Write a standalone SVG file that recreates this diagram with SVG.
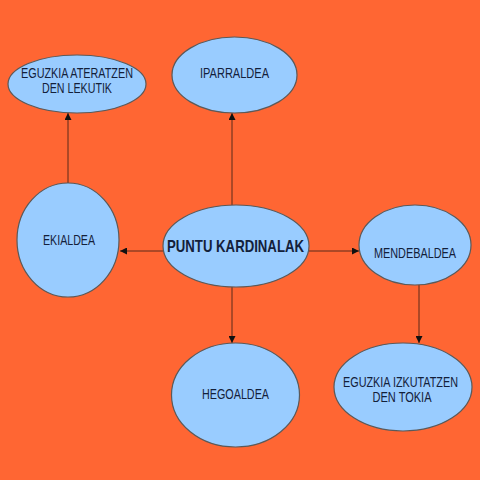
<svg xmlns="http://www.w3.org/2000/svg" width="480" height="480" viewBox="0 0 480 480">
<defs>
<style>
.n{fill:#99ccff;stroke:#5a5a5a;stroke-width:1.2}
.t{font-family:"Liberation Sans",Arial,sans-serif;font-size:14px;fill:#13203a;text-anchor:middle}
.b{font-weight:bold;font-size:17px}
.c{stroke:#5a2a1a;stroke-width:1;fill:none;marker-end:url(#ah)}
</style>
<marker id="ah" viewBox="0 0 10 10" refX="10" refY="5" markerWidth="7" markerHeight="7" orient="auto" markerUnits="userSpaceOnUse">
<path d="M0,0 L10,5 L0,10 z" fill="#111"/>
</marker>
</defs>
<rect width="480" height="480" fill="#ff6633"/>
<g id="connectors">
<line class="c" x1="68" y1="183" x2="68" y2="113"/>
<line class="c" x1="232" y1="205" x2="232" y2="113"/>
<line class="c" x1="163" y1="251" x2="120" y2="251"/>
<line class="c" x1="309" y1="251" x2="359" y2="251"/>
<line class="c" x1="232" y1="287" x2="232" y2="343"/>
<line class="c" x1="419" y1="285" x2="419" y2="343"/>
</g>
<g id="eguzkia-ateratzen">
<ellipse class="n" cx="77" cy="84" rx="69" ry="29"/>
<text class="t" x="77" y="78" textLength="112" lengthAdjust="spacingAndGlyphs">EGUZKIA ATERATZEN</text>
<text class="t" x="77" y="93" textLength="70" lengthAdjust="spacingAndGlyphs">DEN LEKUTIK</text>
</g>
<g id="iparraldea">
<ellipse class="n" cx="234.5" cy="75" rx="62.5" ry="38"/>
<text class="t" x="234.5" y="78" textLength="69" lengthAdjust="spacingAndGlyphs">IPARRALDEA</text>
</g>
<g id="ekialdea">
<ellipse class="n" cx="68" cy="240" rx="51" ry="57"/>
<text class="t" x="69" y="245" textLength="52" lengthAdjust="spacingAndGlyphs">EKIALDEA</text>
</g>
<g id="puntu-kardinalak">
<ellipse class="n" cx="236" cy="246" rx="73" ry="41"/>
<text class="t b" x="235.5" y="252" textLength="137" lengthAdjust="spacingAndGlyphs">PUNTU KARDINALAK</text>
</g>
<g id="mendebaldea">
<ellipse class="n" cx="415" cy="245" rx="56" ry="40"/>
<text class="t" x="415" y="258" textLength="82" lengthAdjust="spacingAndGlyphs">MENDEBALDEA</text>
</g>
<g id="hegoaldea">
<ellipse class="n" cx="235.5" cy="395" rx="64" ry="52"/>
<text class="t" x="235.5" y="399" textLength="67" lengthAdjust="spacingAndGlyphs">HEGOALDEA</text>
</g>
<g id="eguzkia-izkutatzen">
<ellipse class="n" cx="403" cy="387" rx="69" ry="44"/>
<text class="t" x="400.5" y="387" textLength="115" lengthAdjust="spacingAndGlyphs">EGUZKIA IZKUTATZEN</text>
<text class="t" x="402" y="402" textLength="59" lengthAdjust="spacingAndGlyphs">DEN TOKIA</text>
</g>
</svg>
